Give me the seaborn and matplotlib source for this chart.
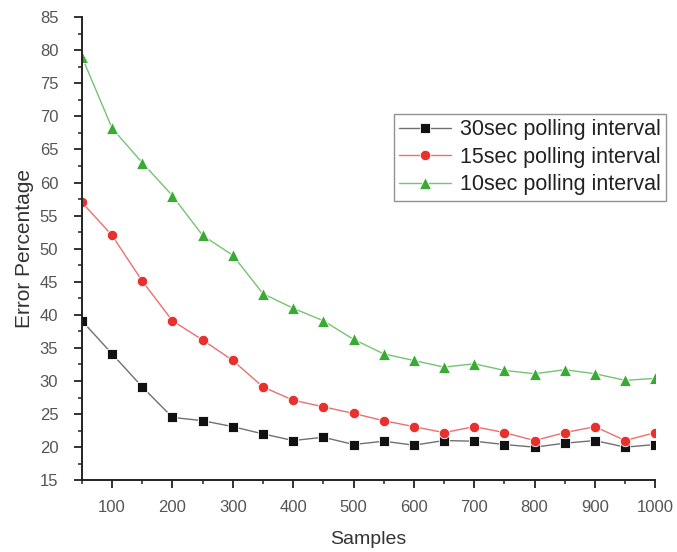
import pandas as pd
import seaborn as sns
import matplotlib.pyplot as plt
from matplotlib.ticker import MultipleLocator

samples = [50, 100, 150, 200, 250, 300, 350, 400, 450, 500,
           550, 600, 650, 700, 750, 800, 850, 900, 950, 1000]
err_30 = [39.1, 34.1, 29.1, 24.5, 24.0, 23.1, 22.0, 21.0, 21.5, 20.4,
          20.9, 20.3, 21.0, 20.9, 20.4, 20.0, 20.6, 21.0, 20.0, 20.4]
err_15 = [57.0, 52.0, 45.1, 39.1, 36.2, 33.1, 29.1, 27.1, 26.1, 25.1,
          24.0, 23.1, 22.2, 23.1, 22.2, 21.0, 22.2, 23.1, 21.0, 22.2]
err_10 = [79.0, 68.2, 63.0, 58.0, 52.0, 49.0, 43.2, 41.0, 39.1, 36.3,
          34.1, 33.1, 32.1, 32.6, 31.6, 31.1, 31.7, 31.1, 30.1, 30.4]

labels = ["30sec polling interval", "15sec polling interval", "10sec polling interval"]

sns.set_style("ticks")
plt.rcParams['font.family'] = ['Liberation Sans', 'DejaVu Sans']

fig = plt.figure(figsize=(6.77, 5.52), dpi=100)
ax = fig.add_axes([0.121, 0.130, 0.847, 0.839])

styles = [
    (err_30, "#707070", "#111111", "s", 6.5),
    (err_15, "#ea7070", "#e8302c", "o", 7.5),
    (err_10, "#74c472", "#3aaa35", "^", 8.5),
]
for (vals, lc, mc, mk, ms), lab in zip(styles, labels):
    df = pd.DataFrame({"Samples": samples, "Error": vals})
    sns.lineplot(x="Samples", y="Error", data=df, ax=ax, color=lc, lw=1.0,
                 marker=mk, markersize=ms, markerfacecolor=mc,
                 markeredgecolor="white", markeredgewidth=0.6, label=lab)

ax.set_xlim(50, 1000)
ax.set_ylim(15, 85)
ax.xaxis.set_major_locator(MultipleLocator(100))
ax.xaxis.set_minor_locator(MultipleLocator(50))
ax.yaxis.set_major_locator(MultipleLocator(5))
ax.yaxis.set_minor_locator(MultipleLocator(2.5))
ax.set_xticks(range(100, 1001, 100))
ax.tick_params(which="major", direction="out", length=6, width=1.3,
               labelsize=12, labelcolor="#555555", color="#222222")
ax.tick_params(axis="y", which="major", pad=11)
ax.tick_params(axis="x", which="major", pad=8)
ax.tick_params(which="minor", direction="out", length=3, width=1.1, color="#222222")
for s in ["left", "bottom"]:
    ax.spines[s].set_linewidth(1.4)
    ax.spines[s].set_color("#222222")
sns.despine(ax=ax)

ax.set_xlabel("Samples", fontsize=14, color="#333333", labelpad=12)
ax.set_ylabel("Error Percentage", fontsize=15, color="#333333", labelpad=4)

leg = ax.legend(loc="upper right", bbox_to_anchor=(666 / 677, 1 - 114 / 552),
                bbox_transform=fig.transFigure, fontsize=15.5, frameon=True,
                fancybox=False, edgecolor="#777777", handlelength=2.4,
                borderpad=0.25, labelspacing=0.3, handletextpad=0.4, borderaxespad=0)
leg.get_frame().set_linewidth(1.0)
for t in leg.get_texts():
    t.set_color("#222222")

fig.savefig("out.png", dpi=100)
